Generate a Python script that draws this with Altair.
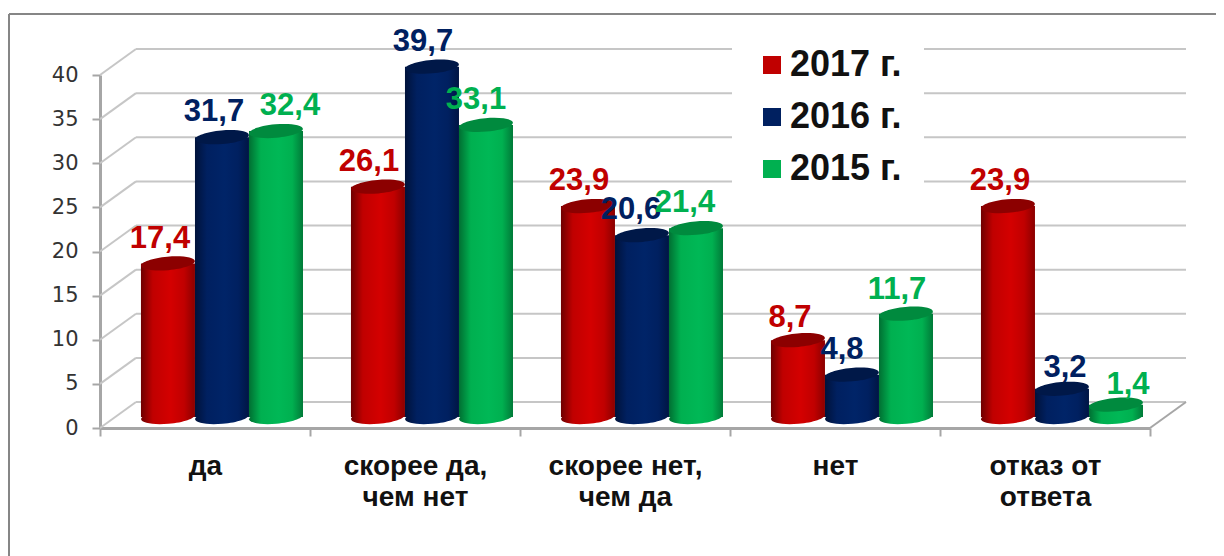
import altair as alt
import pandas as pd

CATEGORIES = ["да", "скорее да,\nчем нет", "скорее нет,\nчем да", "нет", "отказ от\nответа"]
SERIES = ["2017 г.", "2016 г.", "2015 г."]
V2017 = [17.4, 26.1, 23.9, 8.7, 23.9]
V2016 = [31.7, 39.7, 20.6, 4.8, 3.2]
V2015 = [32.4, 33.1, 21.4, 11.7, 1.4]
GRID_VALUES = [0, 5, 10, 15, 20, 25, 30, 35, 40]

W, H = 1050, 353
DX, DY = 36, 26  # depth of the pseudo-3D wall
BAR_DY = 11      # cylinders stand in the middle of the floor
BAR_W = 54

COLORS = {"2017 г.": "#c00000", "2016 г.": "#002060", "2015 г.": "#00b050"}
TOPS = {"2017 г.": "#8c0000", "2016 г.": "#001848", "2015 г.": "#008a3e"}
EDGES = {"2017 г.": ("#6e0000", "#8a0000"), "2016 г.": ("#00123a", "#001544"), "2015 г.": ("#006f32", "#007a38")}
MIDS = {"2017 г.": "#d40000", "2016 г.": "#002468", "2015 г.": "#00b856"}
LABEL_DX = {
    "2017 г.": [-8, -9, -9, -8, -8],
    "2016 г.": [-8, -9, -11, -10, 3],
    "2015 г.": [14, -10, -11, -9, 12],
}
LABEL_DY = {
    "2017 г.": [1, 0, 0, 3, 0],
    "2016 г.": [0, 0, 0, 0, 4],
    "2015 г.": [0, 0, 0, 1, 5],
}
VALUES = {"2017 г.": V2017, "2016 г.": V2016, "2015 г.": V2015}

ELLIPSE = "M-1,0 A1,0.25,0,1,1,1,0 A1,0.25,0,1,1,-1,0 Z"

GRID = "#c6c6c6"
AXIS = "#a6a6a6"
FRAME = "#868686"

x_scale = alt.Scale(domain=CATEGORIES, paddingInner=0, paddingOuter=0)
off_scale = alt.Scale(domain=SERIES, paddingInner=0, paddingOuter=0.444, align=0.854)
y_scale = alt.Scale(domain=[0, 40], nice=False)

X_AXIS = alt.Axis(
    tickBand="extent", labelAngle=0, labelExpr="split(datum.label,'\\n')",
    labelFont="Liberation Sans", labelFontWeight="bold", labelFontSize=28, labelColor="#111111",
    labelLineHeight=31, labelPadding=16, tickSize=8, tickColor=AXIS, tickWidth=2,
    domainColor=AXIS, domainWidth=3, labelLimit=300, grid=False, title=None)
Y_AXIS = alt.Axis(
    values=GRID_VALUES, labelFont="DejaVu Sans", labelFontSize=21, labelColor="#333333",
    labelPadding=14, tickSize=8, tickColor=AXIS, tickWidth=2,
    domainColor=AXIS, domainWidth=3, grid=False, title=None)


def gradient(s):
    a, b = EDGES[s]
    return alt.LinearGradient(
        gradient="linear", x1=0, x2=1, y1=0, y2=0,
        stops=[
            alt.GradientStop(color=a, offset=0),
            alt.GradientStop(color=COLORS[s], offset=0.22),
            alt.GradientStop(color=MIDS[s], offset=0.55),
            alt.GradientStop(color=COLORS[s], offset=0.8),
            alt.GradientStop(color=b, offset=1),
        ],
    )


grid_df = pd.DataFrame({"v": GRID_VALUES})
long_df = pd.DataFrame(
    [{"cat": c, "series": s, "value": VALUES[s][i], "zero": 0, "label": str(VALUES[s][i]).replace(".", ",")}
     for s in SERIES for i, c in enumerate(CATEGORIES)]
)

X = alt.X("cat:N", scale=x_scale, sort=CATEGORIES, axis=X_AXIS)
XO = alt.XOffset("series:N", scale=off_scale)
Y_VAL = alt.Y("value:Q", scale=y_scale, stack=None, axis=Y_AXIS)
Y_GRID = alt.Y("v:Q", scale=y_scale, axis=Y_AXIS)

layers = []

# axes anchor (invisible)
layers.append(alt.Chart(long_df).mark_bar(opacity=0).encode(x=X, y=Y_VAL))

# outer frame (only top and left are visible in the reference)
frame = alt.Chart(pd.DataFrame({"a": [0]}))
layers.append(frame.mark_rule(color=FRAME, strokeWidth=2).encode(
    x=alt.value(-91), x2=alt.value(1130), y=alt.value(-61)))
layers.append(frame.mark_rule(color=FRAME, strokeWidth=2).encode(
    x=alt.value(-91), y=alt.value(-61), y2=alt.value(490)))

# back wall gridlines and side diagonals
layers.append(alt.Chart(grid_df).mark_rule(color=GRID, strokeWidth=2, yOffset=-DY).encode(
    x=alt.value(DX), x2=alt.value(W + DX), y=Y_GRID))
layers.append(alt.Chart(grid_df).mark_rule(color=GRID, strokeWidth=2, y2Offset=-DY).encode(
    x=alt.value(0), x2=alt.value(DX), y=Y_GRID, y2="v:Q"))
layers.append(alt.Chart(pd.DataFrame({"v": [0]})).mark_rule(color=AXIS, strokeWidth=2, y2Offset=-DY).encode(
    x=alt.value(W), x2=alt.value(W + DX), y=Y_GRID, y2="v:Q"))

# cylinders
for s in SERIES:
    base = alt.Chart(long_df[long_df.series == s])
    layers.append(base.mark_point(filled=True, shape=ELLIPSE, size=BAR_W ** 2, opacity=1, strokeWidth=0,
                                  color=gradient(s), angle=355, yOffset=-BAR_DY).encode(
        x=X, xOffset=XO, y=alt.Y("zero:Q", scale=y_scale, axis=Y_AXIS)))
    layers.append(base.mark_bar(color=gradient(s), yOffset=-BAR_DY, y2Offset=-BAR_DY).encode(
        x=X, xOffset=XO, y=Y_VAL, y2="zero:Q"))
    layers.append(base.mark_point(filled=True, shape=ELLIPSE, size=BAR_W ** 2, opacity=1, strokeWidth=0,
                                  color=TOPS[s], angle=355, yOffset=-BAR_DY).encode(
        x=X, xOffset=XO, y=Y_VAL))

# data labels
for s in SERIES:
    d = long_df[long_df.series == s].reset_index(drop=True)
    for i in range(len(d)):
        layers.append(alt.Chart(d.iloc[[i]]).mark_text(
            font="Liberation Sans", fontWeight="bold", fontSize=31, color=COLORS[s],
            baseline="middle", align="center", dx=LABEL_DX[s][i], dy=-BAR_DY - 25 + LABEL_DY[s][i],
        ).encode(x=X, xOffset=XO, y=Y_VAL, text="label:N"))

# legend
layers.append(alt.Chart(long_df).transform_filter("false").mark_square().encode(
    color=alt.Color("series:N", scale=alt.Scale(domain=SERIES, range=[COLORS[s] for s in SERIES]),
                    legend=alt.Legend(
                        title=None, orient="none", legendX=632, legendY=-50, padding=22,
                        fillColor="white", symbolType="square", symbolSize=324, symbolStrokeWidth=0,
                        symbolOpacity=1,
                        labelFont="Liberation Sans", labelFontWeight="bold", labelFontSize=36,
                        labelColor="#111111", labelOffset=0, rowPadding=16, labelLimit=300,
                    )),
))

chart = alt.layer(*layers).resolve_scale(x="shared", y="shared").properties(
    width=W, height=H,
    autosize=alt.AutoSizeParams(type="none"),
    padding={"left": 92, "top": 67, "right": 66, "bottom": 128},
    background="white",
).configure_view(stroke=None)

chart.save("out.html", embed_options={"renderer": "svg", "actions": False})
